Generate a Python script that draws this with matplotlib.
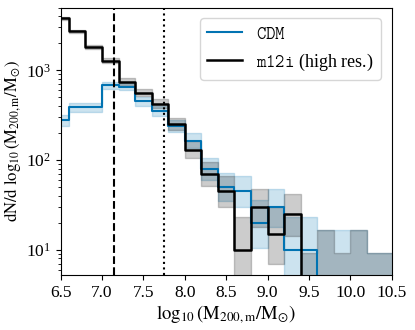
import numpy as np
from matplotlib import pyplot as plt

plt.rcParams['font.family'] = 'serif'
plt.rcParams['font.serif'] = ['Liberation Serif', 'DejaVu Serif']
plt.rcParams['mathtext.fontset'] = 'stix'
plt.rcParams['font.size'] = 12

# bin edges in log10(M200m/Msun), 0.2 dex bins
edges = np.round(np.arange(6.4, 10.61, 0.2), 2)

# dN/dlog10 M per bin
cdm = [278, 386, 386, 680, 655, 450, 350, 237, 165, 80, 50, 45, 20, 30, 10, 10, 5, 5, 5, 0, 0]
cdm_lo = [241, 342, 342, 622, 598, 403, 308, 203, 136, 60, 34.5, 30.3, 10.5, 18.1, 3.6, 3.6, 0.9, 0.9, 0.9, 0, 0]
cdm_hi = [320, 435, 435, 743, 717, 503, 397, 277, 199, 105, 71.4, 65.6, 35.9, 48.0, 23.3, 23.3, 16.6, 16.6, 16.6, 9.3, 9.3]

m12i = [3790, 2710, 1820, 1275, 750, 565, 425, 250, 130, 70, 45, 10, 30, 15, 25, 0, 5, 0, 5, 0, 0]
m12i_lo = [3652, 2594, 1725, 1195, 689, 512, 379, 215, 105, 51.5, 30.3, 3.6, 18.1, 6.9, 14.2, 0, 0.9, 0, 0.9, 0, 0]
m12i_hi = [3933, 2831, 1920, 1360, 816, 623, 476, 291, 161, 94, 65.6, 23.3, 48.0, 29.7, 42.0, 9.3, 16.6, 9.3, 16.6, 9.3, 9.3]

# resolution limits
x_dash = 7.15
x_dot = 7.75

def ext(a):
    a = np.asarray(a, dtype=float)
    return np.append(a, a[-1])

blue = '#0173b2'

fig = plt.figure(figsize=(4.15, 3.3), dpi=100)
ax = fig.add_axes([0.146, 0.166, 0.798, 0.811])
ax.set_yscale('log')

ax.fill_between(edges, ext(cdm_lo), ext(cdm_hi), step='post', color=blue, alpha=0.2, lw=1)
ax.step(edges, ext(cdm), where='post', color=blue, lw=1.5, label=r'$\mathtt{CDM}$')
ax.fill_between(edges, ext(m12i_lo), ext(m12i_hi), step='post', color='k', alpha=0.2, lw=1)
ax.step(edges, ext(m12i), where='post', color='k', lw=1.8, label=r'$\mathtt{m12i}$ (high res.)')

ax.axvline(x_dash, color='k', ls='--', lw=1.5)
ax.axvline(x_dot, color='k', ls=':', lw=1.5)

ax.set_xlim(6.5, 10.5)
ax.set_ylim(5.2, 5000)
ax.set_xticks(np.arange(6.5, 10.51, 0.5))
ax.set_xticklabels(['%.1f' % v for v in np.arange(6.5, 10.51, 0.5)])
ax.tick_params(labelsize=12.5)
ax.set_xlabel(r'$\log_{10}(\mathrm{M_{200,m}/M_{\odot}})$', fontsize=13.5, labelpad=2)
ax.set_ylabel(r'$\mathrm{dN/d}\ \log_{10}(\mathrm{M_{200,m}/M_{\odot}})$', fontsize=12, labelpad=2)
ax.legend(loc='upper right', fontsize=13, handlelength=1.9, borderaxespad=0.6)

plt.savefig('out.png', dpi=100)
